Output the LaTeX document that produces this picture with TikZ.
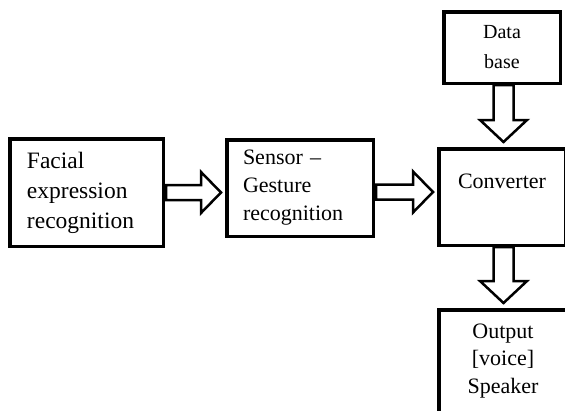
\documentclass[tikz,border=0pt]{standalone}
\usepackage{fontspec}
\setmainfont{Liberation Serif}
\usetikzlibrary{calc}

\begin{document}
\begin{tikzpicture}[x=1pt, y=-1pt,
  box/.style={draw, line width=3.5pt, rectangle, inner sep=0pt},
  hollow/.style={draw, line width=2.5pt, fill=white, line join=miter}]
  \useasboundingbox (0,0) rectangle (565,410);
  \clip (0,0) rectangle (565,410);
  % blocks (centres and sizes taken from the layout)
  \node[box, minimum width=153.5pt, minimum height=107.5pt, text width=119pt, align=left,
        font=\fontsize{23.5}{30}\selectfont] (fer) at (86.5,192.5)
        {Facial\\expression\\recognition};
  \node[box, minimum width=146.5pt, minimum height=96.5pt, text width=114pt, align=left,
        font=\fontsize{22}{28}\selectfont] (sen) at (300,188)
        {Sensor --\\Gesture\\recognition};
  \node[box, minimum width=126.5pt, minimum height=96.5pt, text depth=31pt,
        font=\fontsize{22}{28}\selectfont] (conv) at (502,197) {Converter};
  \node[box, minimum width=116.5pt, minimum height=71.5pt, align=center,
        font=\fontsize{20}{30}\selectfont] (data) at (502,47.5) {Data\\base};
  \node[box, minimum width=128.5pt, minimum height=102.5pt, align=center,
        font=\fontsize{22}{27.5}\selectfont] (out) at (503,361) {Output\\{}[voice]\\Speaker};
  % hollow block arrows: start and tip points
  \coordinate (a1s) at ($(fer.east)+(1,0)$);
  \coordinate (a1t) at ($(a1s -| sen.west)+(-4,0)$);
  \coordinate (a2s) at ($(sen.east)+(1,4)$);
  \coordinate (a2t) at ($(a2s -| conv.west)+(-4,0)$);
  \coordinate (a3s) at ($(data.south)+(1.5,0)$);
  \coordinate (a3t) at ($(a3s |- conv.north)+(0,-5)$);
  \coordinate (a4s) at ($(conv.south)+(1.5,0)$);
  \coordinate (a4t) at ($(a4s |- out.north)+(0,-5)$);
  % horizontal ones
  \foreach \s/\t in {a1s/a1t, a2s/a2t}
    \draw[hollow] ($(\s)+(0,-7.5)$) -- ($(\t)+(-20,-7.5)$) -- ($(\t)+(-20,-20.5)$)
      -- (\t) -- ($(\t)+(-20,20.5)$) -- ($(\t)+(-20,7.5)$) -- ($(\s)+(0,7.5)$) -- cycle;
  % vertical ones
  \foreach \s/\t in {a3s/a3t, a4s/a4t}
    \draw[hollow] ($(\s)+(-10,0)$) -- ($(\t)+(-10,-22)$) -- ($(\t)+(-23.5,-22)$)
      -- (\t) -- ($(\t)+(23.5,-22)$) -- ($(\t)+(10,-22)$) -- ($(\s)+(10,0)$) -- cycle;
\end{tikzpicture}
\end{document}
